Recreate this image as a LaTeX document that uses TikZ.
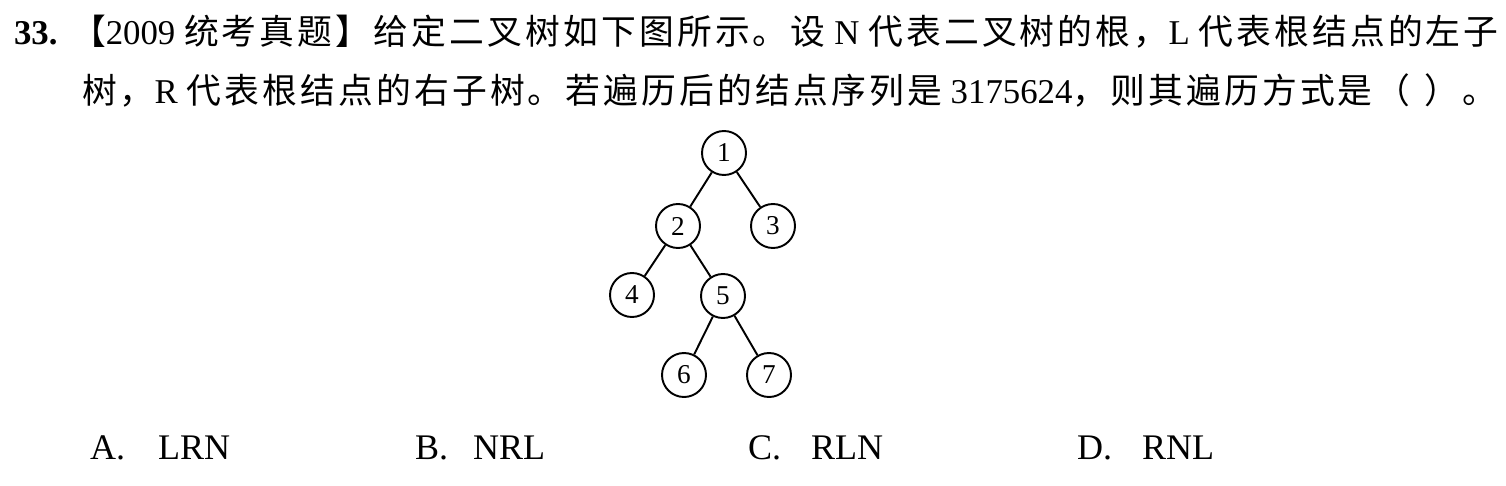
\documentclass[tikz,border=0pt]{standalone}
\usepackage{fontspec}
\setmainfont{Liberation Serif}
\newfontfamily\zh[LetterSpace=9]{Noto Sans CJK SC}
\usetikzlibrary{positioning}

\tikzset{
  vtx/.style={on grid,circle,draw,line width=1.1pt,minimum size=8.8mm,inner sep=0,
              font=\fontsize{15.5}{15.5}\selectfont},
  link/.style={line width=1.1pt},
  txt/.style={inner sep=0,outer sep=0,anchor=base west,font=\fontsize{19.8}{23}\selectfont},
  optbox/.style={inner sep=0,outer sep=0,anchor=base west,font=\fontsize{20.5}{24}\selectfont}
}

\begin{document}
\begin{tikzpicture}[x=0.2mm,y=-0.2mm]
  \useasboundingbox (0,0) rectangle (1506,486);

  % question text
  \node(num)[txt,font=\fontsize{19.8}{23}\selectfont\bfseries] at (14,45){33.};
  \node(l1)[txt] at (71,45){{\zh 【}2009 {\zh 统考真题】给定二叉树如下图所示。设} N {\zh 代表二叉树的根，}L {\zh 代表根结点的左子}};
  \node(l2)[txt] at (82,104){{\zh 树，}R {\zh 代表根结点的右子树。若遍历后的结点序列是} 3175624{\zh ，则其遍历方式是（\hspace{0.4em}）。}};

  % tree
  \node(n1)[vtx] at (724,153){1};
  \node(n2)[vtx,below left=14.6mm and 9.2mm of n1]{2};
  \node(n3)[vtx,below right=14.6mm and 9.8mm of n1]{3};
  \node(n4)[vtx,below left=13.8mm and 9.2mm of n2]{4};
  \node(n5)[vtx,below right=14mm and 9mm of n2]{5};
  \node(n6)[vtx,below left=15.8mm and 7.8mm of n5]{6};
  \node(n7)[vtx,below right=15.8mm and 9.2mm of n5]{7};

  \draw[link](n1)--(n2);
  \draw[link](n1)--(n3);
  \draw[link](n2)--(n4);
  \draw[link](n2)--(n5);
  \draw[link](n5)--(n6);
  \draw[link](n5)--(n7);

  % choices
  \foreach \k/\v/\x/\y in {A/LRN/90/158,B/NRL/415/473,C/RLN/748/811,D/RNL/1077/1142}{
    \node(opt\k)[optbox] at (\x,459){\k.};
    \node(val\k)[optbox] at (\y,459){\v};
  }
\end{tikzpicture}
\end{document}
